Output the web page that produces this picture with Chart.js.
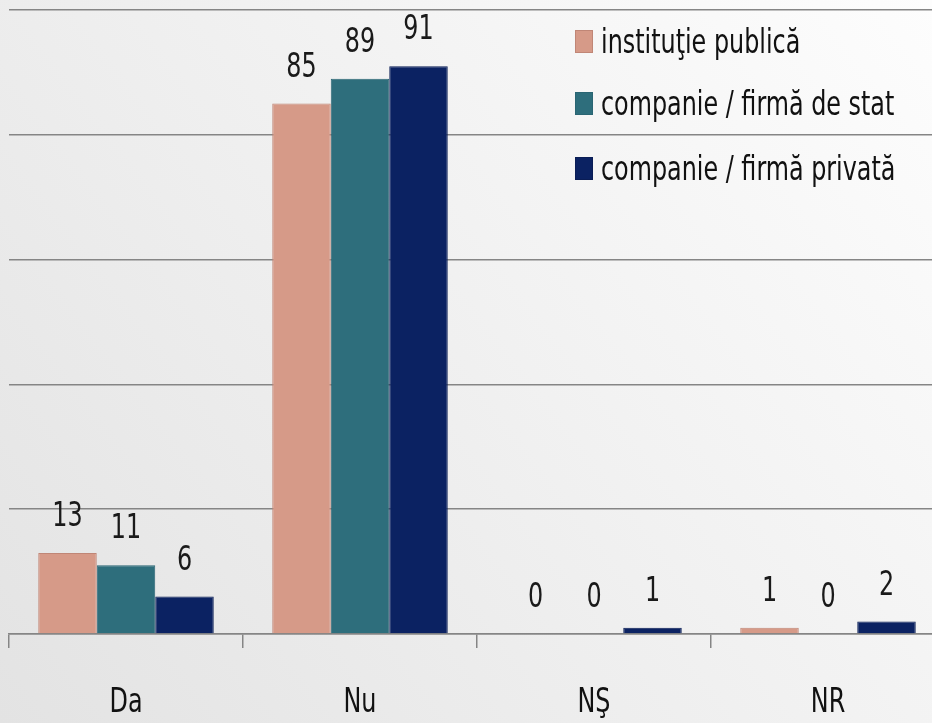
<!DOCTYPE html>
<html>
<head>
<meta charset="utf-8">
<script src="https://cdn.jsdelivr.net/npm/chart.js@4/dist/chart.umd.min.js"></script>
<style>
html,body{margin:0;padding:0;overflow:hidden;background:#eee;}
#wrap{width:960px;height:723px;}
</style>
</head>
<body>
<div id="wrap"><canvas id="c" width="960" height="723"></canvas></div>
<script>
const categories = ['Da', 'Nu', 'NŞ', 'NR'];
const seriesNames = ['instituţie publică', 'companie / firmă de stat', 'companie / firmă privată'];
const institutiePublica = [13, 85, 0, 1];
const firmaDeStat = [11, 89, 0, 0];
const firmaPrivata = [6, 91, 1, 2];
const yTicks = [0, 20, 40, 60, 80, 100];

const FONT = "'Liberation Sans Narrow','DejaVu Sans Condensed','Arial Narrow',sans-serif";
const SX = 0.78;
const colors = ['#d69a88', '#2e6e7c', '#0b2262'];
const borders = ['#c08676', '#2a6573', '#0a1d55'];

function narrowText(ctx, txt, x, y, align) {
  ctx.save();
  ctx.translate(x, y);
  ctx.scale(SX, 1);
  ctx.textAlign = align;
  ctx.fillText(txt, 0, 0);
  ctx.restore();
}

const bgPlugin = {
  id: 'bg',
  beforeDraw(chart) {
    const ctx = chart.ctx;
    const g = ctx.createLinearGradient(0, 723, 932, 0);
    g.addColorStop(0, '#e3e3e3');
    g.addColorStop(1, '#fdfdfd');
    ctx.save();
    ctx.fillStyle = g;
    ctx.fillRect(0, 0, chart.width, chart.height);
    ctx.restore();
  }
};

const labelPlugin = {
  id: 'valueLabels',
  afterDatasetsDraw(chart) {
    const ctx = chart.ctx;
    ctx.save();
    ctx.font = '34px ' + FONT;
    ctx.fillStyle = '#1a1a1a';
    ctx.textBaseline = 'alphabetic';
    chart.data.datasets.forEach((ds, i) => {
      const meta = chart.getDatasetMeta(i);
      meta.data.forEach((el, j) => {
        narrowText(ctx, String(ds.data[j]), el.x, el.y - 27, 'center');
      });
    });
    // category labels from the x scale
    const xs = chart.scales.x;
    ctx.fillStyle = '#111';
    ctx.textBaseline = 'middle';
    chart.data.labels.forEach((lab, i) => {
      narrowText(ctx, lab, xs.getPixelForTick(i), 703, 'center');
    });
    ctx.restore();
  }
};

const legendPlugin = {
  id: 'customLegend',
  afterDraw(chart) {
    const ctx = chart.ctx;
    const baselines = [53, 115, 180];
    ctx.save();
    ctx.font = '34px ' + FONT;
    ctx.textBaseline = 'alphabetic';
    chart.data.datasets.forEach((ds, i) => {
      const b = baselines[i];
      ctx.fillStyle = ds.backgroundColor;
      ctx.fillRect(575, b - 23, 18, 23);
      ctx.strokeStyle = ds.borderColor;
      ctx.lineWidth = 1;
      ctx.strokeRect(575.5, b - 22.5, 17, 22);
      ctx.fillStyle = '#111';
      narrowText(ctx, ds.label, 601, b, 'left');
    });
    ctx.restore();
  }
};

const seriesData = [institutiePublica, firmaDeStat, firmaPrivata];

new Chart(document.getElementById('c'), {
  type: 'bar',
  data: {
    labels: categories,
    datasets: seriesData.map((d, i) => ({
      label: seriesNames[i],
      data: d,
      backgroundColor: colors[i],
      borderColor: borders[i],
      borderWidth: 1,
      categoryPercentage: 0.75,
      barPercentage: 1.0
    }))
  },
  options: {
    responsive: false,
    animation: false,
    layout: { padding: { left: 9, right: 15, top: 10, bottom: 0 } },
    plugins: { legend: { display: false }, tooltip: { enabled: false } },
    scales: {
      x: {
        afterFit(axis) { axis.height = 89; },
        grid: { offset: true, drawOnChartArea: false, drawTicks: true, tickLength: 14, color: '#858585', lineWidth: 1.5 },
        border: { display: true, color: '#858585', width: 1.5 },
        ticks: { display: false }
      },
      y: {
        min: 0, max: 100,
        afterBuildTicks(axis) { axis.ticks = yTicks.map(v => ({ value: v })); },
        ticks: { display: false },
        border: { display: false },
        grid: { drawTicks: false, color: '#858585', lineWidth: 1.5 }
      }
    }
  },
  plugins: [bgPlugin, labelPlugin, legendPlugin]
});
</script>
</body>
</html>
